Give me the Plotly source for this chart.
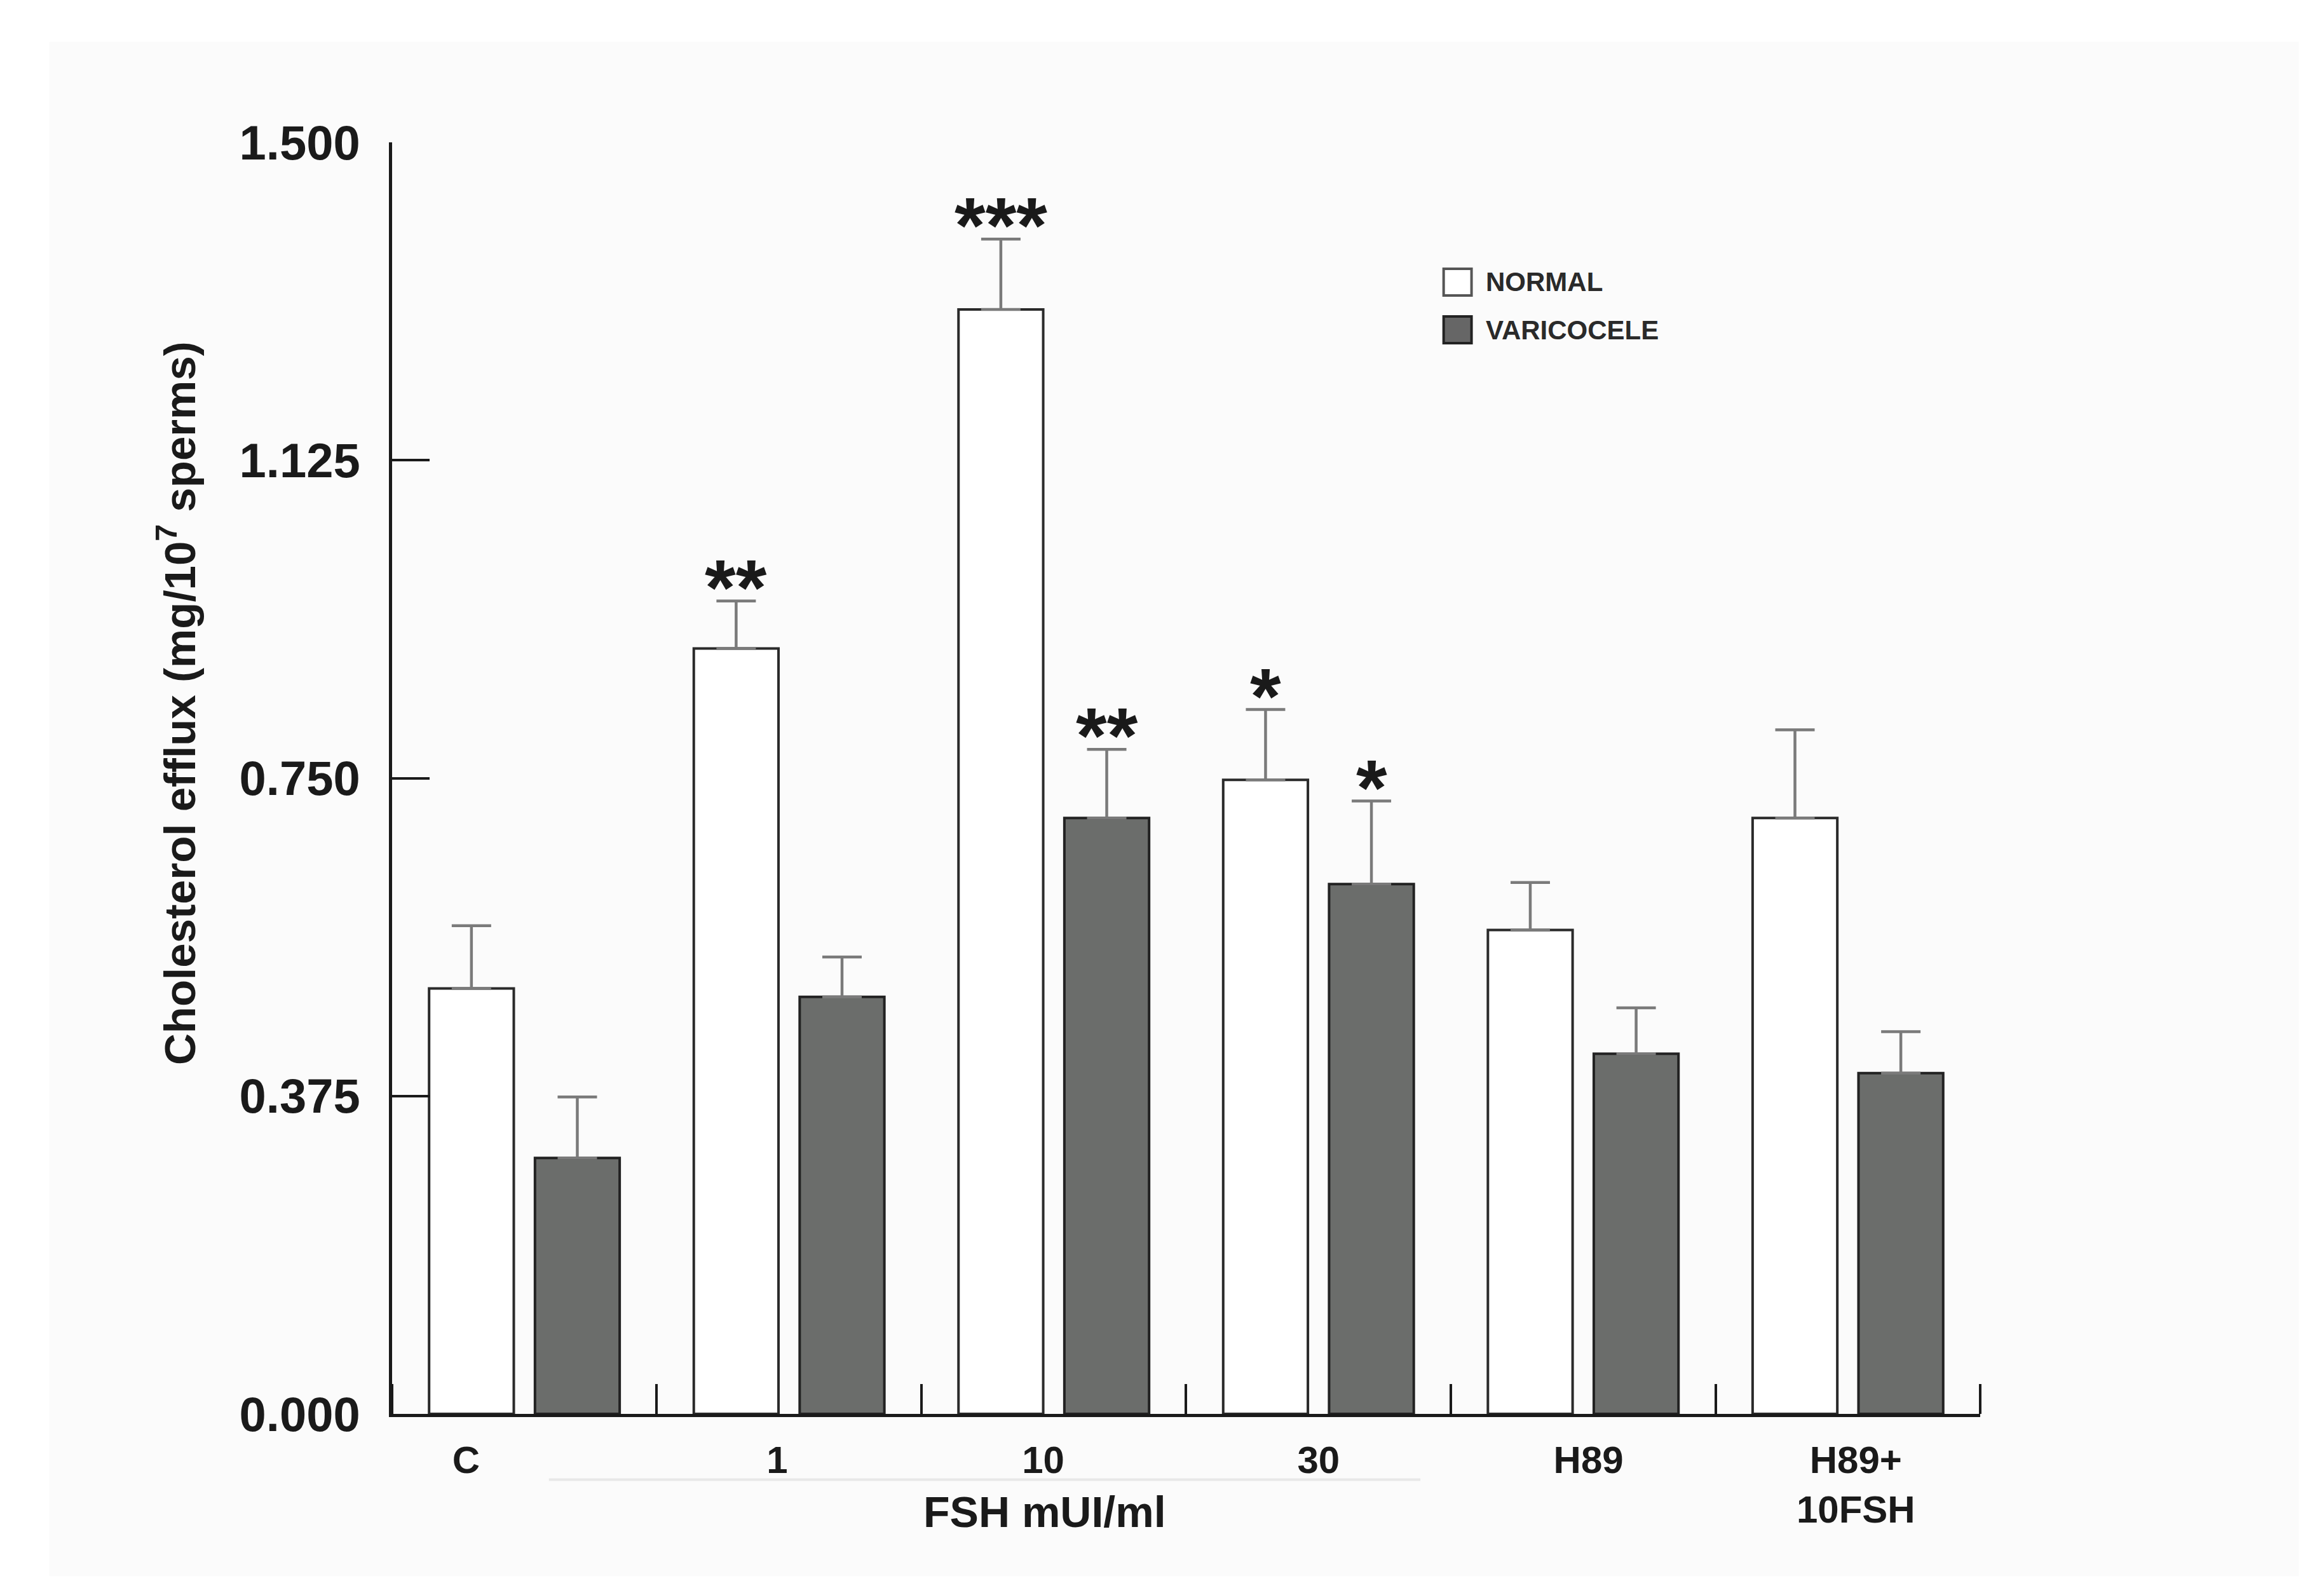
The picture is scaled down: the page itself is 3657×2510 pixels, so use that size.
import plotly.graph_objects as go

# ---- data ----
categories = ["C", "1", "10", "30", "H89", "H89+<br>10FSH"]
normal_vals = [0.502, 0.903, 1.303, 0.748, 0.571, 0.703]
normal_err = [0.074, 0.056, 0.083, 0.083, 0.056, 0.104]
varico_vals = [0.302, 0.492, 0.703, 0.625, 0.425, 0.402]
varico_err = [0.072, 0.047, 0.081, 0.098, 0.054, 0.049]
normal_sig = ["", "**", "***", "*", "", ""]
varico_sig = ["", "", "**", "*", "", ""]
y_ticks = [0.0, 0.375, 0.75, 1.125, 1.5]
y_ticktext = ["0.000", "0.375", "0.750", "1.125", "1.500"]
series_names = ["NORMAL", "VARICOCELE"]
x_title = "FSH mUI/ml"
y_title = "Cholesterol efflux (mg/10<sup>7</sup> sperms)"

# ---- styling ----
FONT = "Liberation Sans, Arial, sans-serif"
W, H = 3657, 2510
label_shift = [-0.22, -0.045, -0.04, 0.0, 0.02, 0.03]
xpos = list(range(len(categories)))

fig = go.Figure()
fig.add_trace(go.Bar(
    x=xpos, y=normal_vals, name=series_names[0], showlegend=False,
    marker=dict(color="white", line=dict(color="#2a2a2a", width=4)),
    error_y=dict(type="data", array=normal_err, arrayminus=[0] * len(normal_err),
                 symmetric=False, color="#7a7a7a", thickness=4.5, width=31),
))
fig.add_trace(go.Bar(
    x=xpos, y=varico_vals, name=series_names[1], showlegend=False,
    marker=dict(color="#6b6d6b", line=dict(color="#222222", width=4)),
    error_y=dict(type="data", array=varico_err, arrayminus=[0] * len(varico_err),
                 symmetric=False, color="#7a7a7a", thickness=4.5, width=31),
))

annotations = []
# significance stars
for i, s in enumerate(normal_sig):
    if s:
        annotations.append(dict(x=i - 0.2, y=normal_vals[i] + normal_err[i], xref="x", yref="y",
                                text="<b>" + s + "</b>", showarrow=False, yanchor="bottom", yshift=-50,
                                font=dict(family=FONT, size=125, color="#1a1a1a")))
for i, s in enumerate(varico_sig):
    if s:
        annotations.append(dict(x=i + 0.2, y=varico_vals[i] + varico_err[i], xref="x", yref="y",
                                text="<b>" + s + "</b>", showarrow=False, yanchor="bottom", yshift=-50,
                                font=dict(family=FONT, size=125, color="#1a1a1a")))
# y title
annotations.append(dict(x=0.0738, y=0.5625, xref="paper", yref="paper", text="<b>" + y_title + "</b>",
                        textangle=-90, showarrow=False, xanchor="center", yanchor="middle",
                        font=dict(family=FONT, size=69, color="#1a1a1a")))
# x group title
annotations.append(dict(x=0.4474, y=0.0555, xref="paper", yref="paper", text="<b>" + x_title + "</b>",
                        showarrow=False, xanchor="center", yanchor="middle",
                        font=dict(family=FONT, size=68, color="#1a1a1a")))
# manual legend text
leg_y = [0.8263, 0.7964]
for name, yy in zip(series_names, leg_y):
    annotations.append(dict(x=0.6365, y=yy, xref="paper", yref="paper", text="<b>" + name + "</b>",
                            showarrow=False, xanchor="left", yanchor="middle",
                            font=dict(family=FONT, size=42, color="#2a2a2a")))

shapes = [
    # faint page panel
    dict(type="rect", xref="paper", yref="paper", x0=0.019, x1=0.987, y0=0.015, y1=0.977,
         fillcolor="#fbfbfb", line=dict(width=0), layer="below"),
    # faint underline below FSH doses
    dict(type="line", xref="paper", yref="paper", x0=0.234, x1=0.609, y0=0.0755, y1=0.0755,
         line=dict(color="#e8e8e8", width=4)),
    # legend swatches
    dict(type="rect", xref="paper", yref="paper", x0=0.619, x1=0.631, y0=0.8179, y1=0.8347,
         fillcolor="white", line=dict(color="#555555", width=4)),
    dict(type="rect", xref="paper", yref="paper", x0=0.619, x1=0.631, y0=0.7880, y1=0.8048,
         fillcolor="#666666", line=dict(color="#222222", width=4)),
]

fig.update_layout(
    width=W, height=H,
    margin=dict(l=0, r=0, t=0, b=0),
    paper_bgcolor="white", plot_bgcolor="rgba(0,0,0,0)",
    barmode="group", bargap=0.2, bargroupgap=0.2,
    showlegend=False,
    annotations=annotations, shapes=shapes,
    font=dict(family=FONT, color="#1a1a1a"),
)
fig.update_xaxes(
    domain=[0.1665, 0.8499], range=[-0.5, 5.5], automargin=False,
    tickmode="array", tickvals=[p + s for p, s in zip(xpos, label_shift)],
    ticktext=["<b>" + c + "</b>" for c in categories],
    ticks="", ticklabelstandoff=16,
    tickfont=dict(family=FONT, size=60, color="#1a1a1a"),
    showline=True, linecolor="#1a1a1a", linewidth=5, showgrid=False, zeroline=False,
    minor=dict(tickmode="linear", tick0=0.5, dtick=1, ticks="inside", ticklen=47,
               tickwidth=4, tickcolor="#1a1a1a", showgrid=False),
)
fig.update_yaxes(
    domain=[0.1167, 0.9139], range=[0, 1.5], automargin=False,
    tickmode="array", tickvals=y_ticks, ticktext=["<b>" + t + "</b>" for t in y_ticktext],
    ticks="inside", ticklen=59, tickwidth=4, tickcolor="#1a1a1a", ticklabelstandoff=30,
    tickfont=dict(family=FONT, size=76, color="#1a1a1a"),
    showline=True, linecolor="#1a1a1a", linewidth=5, showgrid=False, zeroline=False,
)

fig.write_html("out.html")
